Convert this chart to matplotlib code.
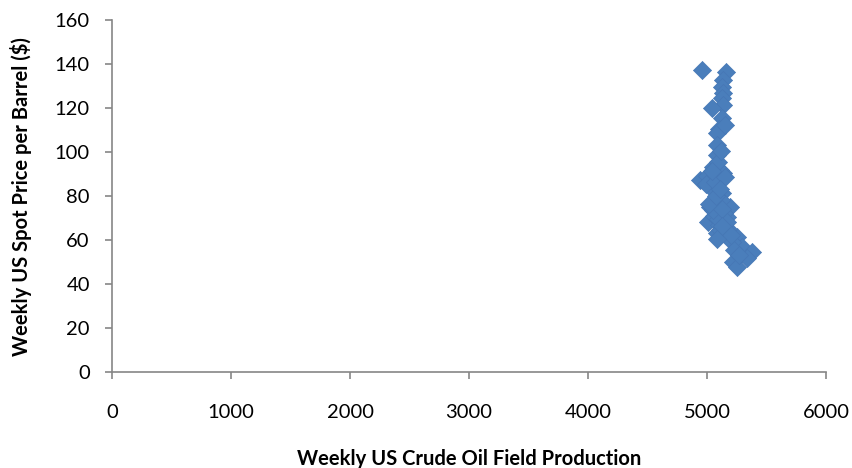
import matplotlib.pyplot as plt

# weekly production (x) vs spot price (y)
production = [
    4955, 5160, 5132, 5124, 5134, 5124, 5132, 5039, 5124, 5103,
    5081, 5084, 5081, 5050, 4941, 5134, 5025, 5124, 5081, 5025,
    5193, 5008, 5165, 5081, 5249, 5291, 5375, 5221, 5249, 5333,
    5060, 5100, 5110, 5000, 4990, 5070, 5150, 5120, 5060, 5140,
    5100, 5180, 5090, 5210, 5050, 5130, 5170, 5110, 5230, 5270,
    5020, 5075, 5095, 5115, 5150, 5040, 5105, 5200, 5125, 5085,
]
price = [
    137.3, 136.2, 132.7, 129.7, 126.8, 124.4, 121.4, 119.9, 115.3, 110.5,
    108.5, 103.2, 98.6, 93.3, 87.3, 90.4, 84.2, 81.4, 75.9, 75.1,
    75.1, 68.3, 70.6, 63.0, 61.5, 57.0, 54.7, 50.1, 47.9, 51.8,
    90.5, 88.0, 92.0, 89.0, 85.5, 86.5, 88.5, 78.0, 71.0, 72.5,
    67.0, 65.0, 69.5, 59.0, 73.5, 74.0, 68.0, 64.5, 55.5, 53.0,
    76.5, 80.0, 95.5, 100.5, 112.5, 91.5, 83.0, 62.5, 66.5, 60.5,
]

x_ticks = [0, 1000, 2000, 3000, 4000, 5000, 6000]
y_ticks = [0, 20, 40, 60, 80, 100, 120, 140, 160]

plt.rcParams['font.family'] = ['Lato', 'DejaVu Sans']

fig = plt.figure(figsize=(8.52, 4.68), dpi=100)
ax = fig.add_axes([0.1315, 0.205, 0.838, 0.752])

ax.scatter(production, price, marker='D', s=85, color='#4A7EBB',
           edgecolors='#4677B5', linewidths=0.5, zorder=3)

ax.set_xlim(0, 6000)
ax.set_ylim(0, 160)
ax.set_xticks(x_ticks)
ax.set_yticks(y_ticks)

for side in ('top', 'right'):
    ax.spines[side].set_visible(False)
for side in ('left', 'bottom'):
    ax.spines[side].set_color('#868686')
    ax.spines[side].set_linewidth(1.2)

ax.tick_params(axis='both', direction='out', length=5, width=1.2,
               color='#868686', labelsize=14.5, labelcolor='black')
ax.tick_params(axis='x', pad=18)
ax.tick_params(axis='y', pad=11)

ax.set_xlabel('Weekly US Crude Oil Field Production', fontsize=14.5,
              fontweight='bold', labelpad=20)
ax.set_ylabel('Weekly US Spot Price per Barrel ($)', fontsize=14.5,
              fontweight='bold', labelpad=16)

fig.savefig('out.png', dpi=100)
